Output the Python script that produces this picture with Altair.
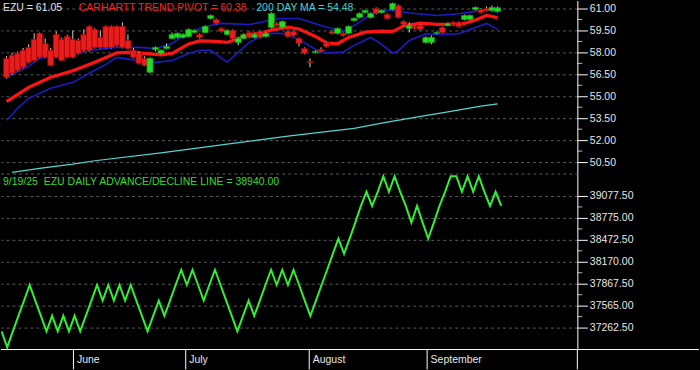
import altair as alt
import pandas as pd

# ---------------- data (trading-day index 0 = May 13 ... 89 = Sep 19) ----------------
OPEN = [57.59, 57.80, 57.93, 58.14, 58.34, 58.89, 59.30, 58.61, 58.14, 59.23,
        58.89, 59.09, 58.89, 58.82, 59.23, 59.77, 59.57, 59.02, 59.77, 59.77,
        59.77, 59.77, 58.82, 58.14, 57.93, 57.59, 56.64, 58.20, 57.93, 58.27,
        58.95, 59.02, 59.02, 59.09, 59.36, 59.23, 59.36, 60.32, 60.25, 59.64,
        59.23, 59.50, 58.68, 58.95, 59.36, 59.02, 59.43, 59.09, 59.70, 59.98,
        59.70, 59.43, 59.43, 58.95, 58.27, 57.39, 58.00, 58.20, 58.68, 59.43,
        59.30, 59.30, 59.30, 60.18, 60.39, 60.73, 60.39, 61.00, 60.73, 60.59,
        60.93, 61.20, 60.11, 59.64, 59.77, 59.84, 58.68, 58.68, 59.30, 59.70,
        59.84, 60.05, 60.05, 60.25, 60.25, 60.93, 60.93, 61.00, 60.86, 60.80]
HIGH = [57.75, 57.95, 58.05, 58.30, 58.55, 59.30, 59.36, 58.95, 58.30, 59.43,
        59.00, 59.20, 59.50, 58.95, 59.57, 59.84, 59.65, 59.50, 59.84, 59.84,
        59.84, 60.05, 59.23, 58.30, 58.07, 57.73, 57.66, 58.41, 58.20, 58.61,
        59.36, 59.36, 59.30, 59.64, 59.57, 59.30, 59.84, 60.59, 60.32, 59.70,
        59.57, 59.57, 59.02, 59.30, 59.43, 59.30, 59.50, 59.36, 60.73, 60.05,
        60.18, 59.50, 59.50, 59.02, 58.34, 57.59, 58.14, 58.34, 58.75, 59.50,
        59.70, 59.36, 59.84, 60.39, 60.73, 60.93, 60.73, 61.07, 60.93, 60.66,
        61.41, 61.27, 60.18, 60.05, 59.84, 59.91, 59.09, 59.16, 59.43, 59.77,
        60.05, 60.11, 60.11, 60.59, 60.59, 61.14, 61.00, 61.14, 61.20, 61.14]
LOW = [56.20, 56.45, 56.70, 56.90, 57.25, 57.40, 57.60, 57.60, 57.05, 57.60,
       57.40, 57.60, 57.60, 57.85, 58.05, 58.05, 58.27, 58.27, 58.27, 58.27,
       58.40, 58.27, 58.20, 57.59, 57.18, 57.05, 56.57, 58.07, 57.86, 58.20,
       58.89, 58.95, 58.95, 59.02, 59.30, 58.95, 59.30, 60.25, 59.91, 59.36,
       59.16, 58.89, 58.48, 58.89, 58.95, 58.95, 58.95, 59.02, 59.64, 59.77,
       59.64, 59.02, 59.09, 58.41, 57.86, 56.98, 57.93, 58.00, 58.34, 59.23,
       59.23, 59.09, 59.23, 60.11, 60.32, 60.66, 60.32, 60.59, 60.66, 60.25,
       60.86, 60.32, 59.84, 59.36, 59.57, 59.50, 58.61, 58.55, 59.23, 59.30,
       59.77, 59.84, 59.70, 60.18, 60.18, 60.86, 60.66, 60.80, 60.80, 60.73]
CLOSE = [56.30, 56.57, 56.77, 56.98, 57.32, 57.45, 57.66, 57.66, 57.11, 57.66,
         57.45, 57.66, 57.66, 57.93, 58.14, 58.14, 58.34, 58.34, 58.34, 58.34,
         58.48, 58.34, 58.27, 57.66, 57.25, 57.11, 57.59, 58.34, 58.14, 58.41,
         59.23, 59.30, 59.23, 59.57, 59.50, 59.02, 59.77, 60.52, 59.98, 59.43,
         59.50, 58.95, 58.95, 59.23, 59.02, 59.23, 59.02, 59.30, 60.66, 59.84,
         60.11, 59.09, 59.16, 58.61, 57.93, 57.32, 58.07, 58.07, 58.41, 59.30,
         59.64, 59.16, 59.77, 60.32, 60.66, 60.86, 60.66, 60.66, 60.86, 60.32,
         61.34, 60.39, 59.91, 59.84, 59.64, 59.57, 59.02, 59.02, 59.36, 59.36,
         59.98, 59.91, 59.77, 60.52, 60.52, 61.07, 60.73, 60.86, 61.07, 61.05]

PIVOT_IDX = [0, 4, 8, 12, 16, 20, 22, 25, 28, 30, 33, 35, 38, 40, 42, 44, 46, 48,
             51, 53, 56, 58, 60, 62, 65, 68, 70, 72, 75, 78, 81, 83, 85, 87, 88, 89]
PIVOT_VAL = [54.63, 55.61, 56.30, 56.74, 57.32, 57.97, 58.00, 57.93, 57.83, 57.93,
             58.58, 58.78, 58.75, 58.68, 58.95, 59.23, 59.30, 59.53, 59.73, 59.60,
             59.09, 58.65, 58.59, 59.02, 59.38, 59.45, 59.43, 59.81, 60.00, 59.91,
             59.94, 59.98, 60.22, 60.52, 60.45, 60.38]

UPPER_IDX = [0, 4, 6, 8, 12, 15, 20, 24, 27, 30, 33, 36, 39, 44, 46, 48, 50, 53,
             57, 61, 64, 67, 70, 73, 78, 82, 84, 87, 89]
UPPER_VAL = [56.30, 57.05, 57.59, 57.73, 57.86, 58.14, 58.34, 58.34, 58.27, 58.61,
             59.36, 59.77, 59.98, 59.91, 60.05, 60.25, 60.32, 60.32, 59.84, 59.43,
             60.05, 60.86, 60.86, 60.69, 60.52, 60.64, 60.75, 60.91, 60.75]

LOWER_IDX = [0, 2, 4, 8, 12, 15, 18, 20, 23, 27, 30, 33, 35, 37, 39, 40, 42, 44,
             46, 48, 50, 53, 56, 58, 61, 63, 66, 68, 70, 71, 73, 76, 79, 82, 84, 87, 89]
LOWER_VAL = [53.36, 54.18, 54.86, 55.55, 55.95, 56.57, 57.18, 57.66, 57.49, 57.32,
             57.45, 57.93, 58.14, 58.14, 57.59, 57.34, 58.00, 58.68, 59.09, 59.30,
             59.30, 58.89, 58.20, 57.95, 58.02, 58.48, 59.02, 58.55, 57.95, 58.10,
             58.82, 59.27, 59.23, 59.27, 59.57, 59.98, 59.57]

MA_IDX = [1, 6, 12, 16, 28, 40, 51, 63, 68, 74, 80, 86, 89]
MA_VAL = [49.80, 50.07, 50.36, 50.59, 51.13, 51.73, 52.27, 52.80, 53.16, 53.55,
          53.93, 54.32, 54.48]

AD_VAL = [37210, 36990, 37210, 37425, 37635, 37850, 37635, 37425, 37210, 37425,
          37210, 37425, 37210, 37425, 37210, 37425, 37635, 37850, 37635, 37850,
          37635, 37850, 37635, 37850, 37635, 37425, 37210, 37425, 37635, 37425,
          37635, 37850, 38060, 37850, 38060, 37850, 37635, 37850, 38060, 37850,
          37635, 37425, 37210, 37425, 37635, 37425, 37635, 37850, 38060, 37850,
          38060, 37850, 38060, 37850, 37635, 37425, 37635, 37850, 38060, 38280,
          38490, 38280, 38490, 38710, 38940, 39135, 38940, 39135, 39350, 39135,
          39350, 39135, 38940, 38710, 38940, 38710, 38490, 38710, 38940, 39135,
          39350, 39350, 39135, 39350, 39135, 39350, 39135, 38940, 39135, 38940]

MONTHS = ["June", "July", "August", "September"]
MONTH_FIRST_DAY = [13, 33, 55, 76]

TOP_TICKS = [50.5, 52.0, 53.5, 55.0, 56.5, 58.0, 59.5, 61.0]
TOP_MINOR = [51.25, 52.75, 54.25, 55.75, 57.25, 58.75, 60.25]
AD_TICKS = [37262.5, 37565.0, 37867.5, 38170.0, 38472.5, 38775.0, 39077.5]
AD_MINOR = [37413.75, 37716.25, 38018.75, 38321.25, 38623.75, 38926.25]
AD_EXTRA_GRID = [39380.0]

TOP_LABELS = ["EZU = 61.05", "CARHARTT TREND PIVOT = 60.38", "200 DAY MA = 54.48"]
AD_LABEL = "9/19/25\u00a0 EZU DAILY ADVANCE/DECLINE LINE = 38940.00"

# ---------------- styling ----------------
FONT = "Liberation Sans"
FS = 10.5
W = 578
H1 = 173
H2 = 177
GRID = "#5a5a5a"

n = len(OPEN)
candles = pd.DataFrame({"i": list(range(n)), "open": OPEN, "high": HIGH,
                        "low": LOW, "close": CLOSE})
candles["dir"] = ["up" if c >= o else "down" for o, c in zip(OPEN, CLOSE)]

xs = alt.Scale(domain=[-0.107, 102.56], nice=False, zero=False)
X = alt.X("i:Q", scale=xs, axis=None)

top_axis = alt.Axis(orient="right", values=TOP_TICKS, format=".2f", tickSize=10,
                    labelPadding=2, grid=True, gridDash=[3, 3], gridColor=GRID,
                    domainColor="white", tickColor="white", labelColor="#e6e6e6",
                    labelFontSize=FS, labelFont=FONT, title=None, labelOverlap=False)
top_scale = alt.Scale(domain=[49.75, 61.5455], nice=False, zero=False)


def ytop(field):
    return alt.Y(field, type="quantitative", scale=top_scale, axis=top_axis, title=None)


ad_axis = alt.Axis(orient="right", values=AD_TICKS, format=".2f", tickSize=10,
                   labelPadding=2, grid=True, gridDash=[3, 3], gridColor=GRID,
                   domainColor="white", tickColor="white", labelColor="#e6e6e6",
                   labelFontSize=FS, labelFont=FONT, title=None, labelOverlap=False)
ad_scale = alt.Scale(domain=[36960, 39393.75], nice=False, zero=False)


def yad(field):
    return alt.Y(field, type="quantitative", scale=ad_scale, axis=ad_axis, title=None)


def line_df(idx, val):
    return pd.DataFrame({"i": idx, "v": val})


ma = alt.Chart(line_df(MA_IDX, MA_VAL)).mark_line(color="#52d6cf", strokeWidth=1.2, clip=True).encode(x=X, y=ytop("v"))
upper = alt.Chart(line_df(UPPER_IDX, UPPER_VAL)).mark_line(color="#1c1cc4", strokeWidth=1.6, clip=True).encode(x=X, y=ytop("v"))
lower = alt.Chart(line_df(LOWER_IDX, LOWER_VAL)).mark_line(color="#1c1cc4", strokeWidth=1.6, clip=True).encode(x=X, y=ytop("v"))
pivot = alt.Chart(line_df(PIVOT_IDX, PIVOT_VAL)).mark_line(color="#ff1414", strokeWidth=3.2, clip=True).encode(x=X, y=ytop("v"))

wicks = alt.Chart(candles).mark_rule(color="#cfcfcf", strokeWidth=1, clip=True).encode(
    x=X, y=ytop("low"), y2="high")
bodies = alt.Chart(candles).mark_bar(size=6, strokeWidth=0.7, clip=True).encode(
    x=X, y=ytop("open"), y2="close",
    color=alt.Color("dir:N", scale=alt.Scale(domain=["up", "down"], range=["#25dc25", "#e61e1e"]), legend=None),
    stroke=alt.Stroke("dir:N", scale=alt.Scale(domain=["up", "down"], range=["#10a010", "#a00000"]), legend=None),
)

top_minor = alt.Chart(pd.DataFrame({"v": TOP_MINOR})).mark_tick(
    orient="horizontal", size=5, thickness=1, color="white").encode(
    x=alt.value(W + 2.5), y=ytop("v"))

lab_df = pd.DataFrame({"t": TOP_LABELS})
t1 = alt.Chart(lab_df).transform_filter(alt.datum.t == TOP_LABELS[0]).mark_text(
    align="left", baseline="alphabetic", font=FONT, fontSize=FS, color="#e6e6e6").encode(
    x=alt.value(2), y=alt.value(10.5), text="t:N")
t2 = alt.Chart(lab_df).transform_filter(alt.datum.t == TOP_LABELS[1]).mark_text(
    align="left", baseline="alphabetic", font=FONT, fontSize=FS, color="#ff2020").encode(
    x=alt.value(78), y=alt.value(10.5), text="t:N")
t3 = alt.Chart(lab_df).transform_filter(alt.datum.t == TOP_LABELS[2]).mark_text(
    align="left", baseline="alphabetic", font=FONT, fontSize=FS, color="#45d2d2").encode(
    x=alt.value(256), y=alt.value(10.5), text="t:N")

top = alt.layer(ma, upper, lower, pivot, wicks, bodies, top_minor, t1, t2, t3).properties(
    width=W, height=H1)

# ---------------- lower panel ----------------
ad_df = pd.DataFrame({"i": list(range(len(AD_VAL))), "v": AD_VAL})
ad_line = alt.Chart(ad_df).mark_line(color="#33ee33", strokeWidth=2, clip=True).encode(x=X, y=yad("v"))

extra_grid = alt.Chart(pd.DataFrame({"v": AD_EXTRA_GRID})).mark_rule(
    color=GRID, strokeDash=[3, 3], strokeWidth=1).encode(
    x=alt.value(0), x2=alt.value(W), y=yad("v"))

ad_minor = alt.Chart(pd.DataFrame({"v": AD_MINOR})).mark_tick(
    orient="horizontal", size=5, thickness=1, color="white").encode(
    x=alt.value(W + 2.5), y=yad("v"))

ad_text = alt.Chart(pd.DataFrame({"t": [AD_LABEL]})).mark_text(
    align="left", baseline="alphabetic", font=FONT, fontSize=FS, color="#33dd33").encode(
    x=alt.value(2), y=alt.value(12), text="t:N")

month_df = pd.DataFrame({"m": MONTHS, "first": MONTH_FIRST_DAY})
month_rules = alt.Chart(month_df).transform_calculate(i="datum.first - 0.2").mark_rule(
    color="white", strokeWidth=1).encode(x=X, y=alt.value(H2), y2=alt.value(H2 + 20))
month_text = alt.Chart(month_df).transform_calculate(i="datum.first - 0.2").mark_text(
    align="left", baseline="alphabetic", dx=3.5, font=FONT, fontSize=FS, color="#e6e6e6").encode(
    x=X, y=alt.value(H2 + 13.5), text="m:N")

base_line = alt.Chart(pd.DataFrame({"v": [0]})).mark_rule(color="white", strokeWidth=1).encode(
    x=alt.value(0), x2=alt.value(700), y=alt.value(H2))
axis_ext = alt.Chart(pd.DataFrame({"v": [0]})).mark_rule(color="white", strokeWidth=1).encode(
    x=alt.value(W), y=alt.value(H2), y2=alt.value(H2 + 20))

bottom = alt.layer(extra_grid, ad_line, ad_minor, ad_text, month_rules, month_text,
                   base_line, axis_ext).properties(width=W, height=H2)

chart = alt.vconcat(top, bottom, spacing=0).properties(
    padding={"left": 0, "top": 0, "right": 0, "bottom": 0}
).configure(background="#000000").configure_view(stroke=None)

chart.save("out.html", embed_options={"renderer": "svg", "actions": False})
